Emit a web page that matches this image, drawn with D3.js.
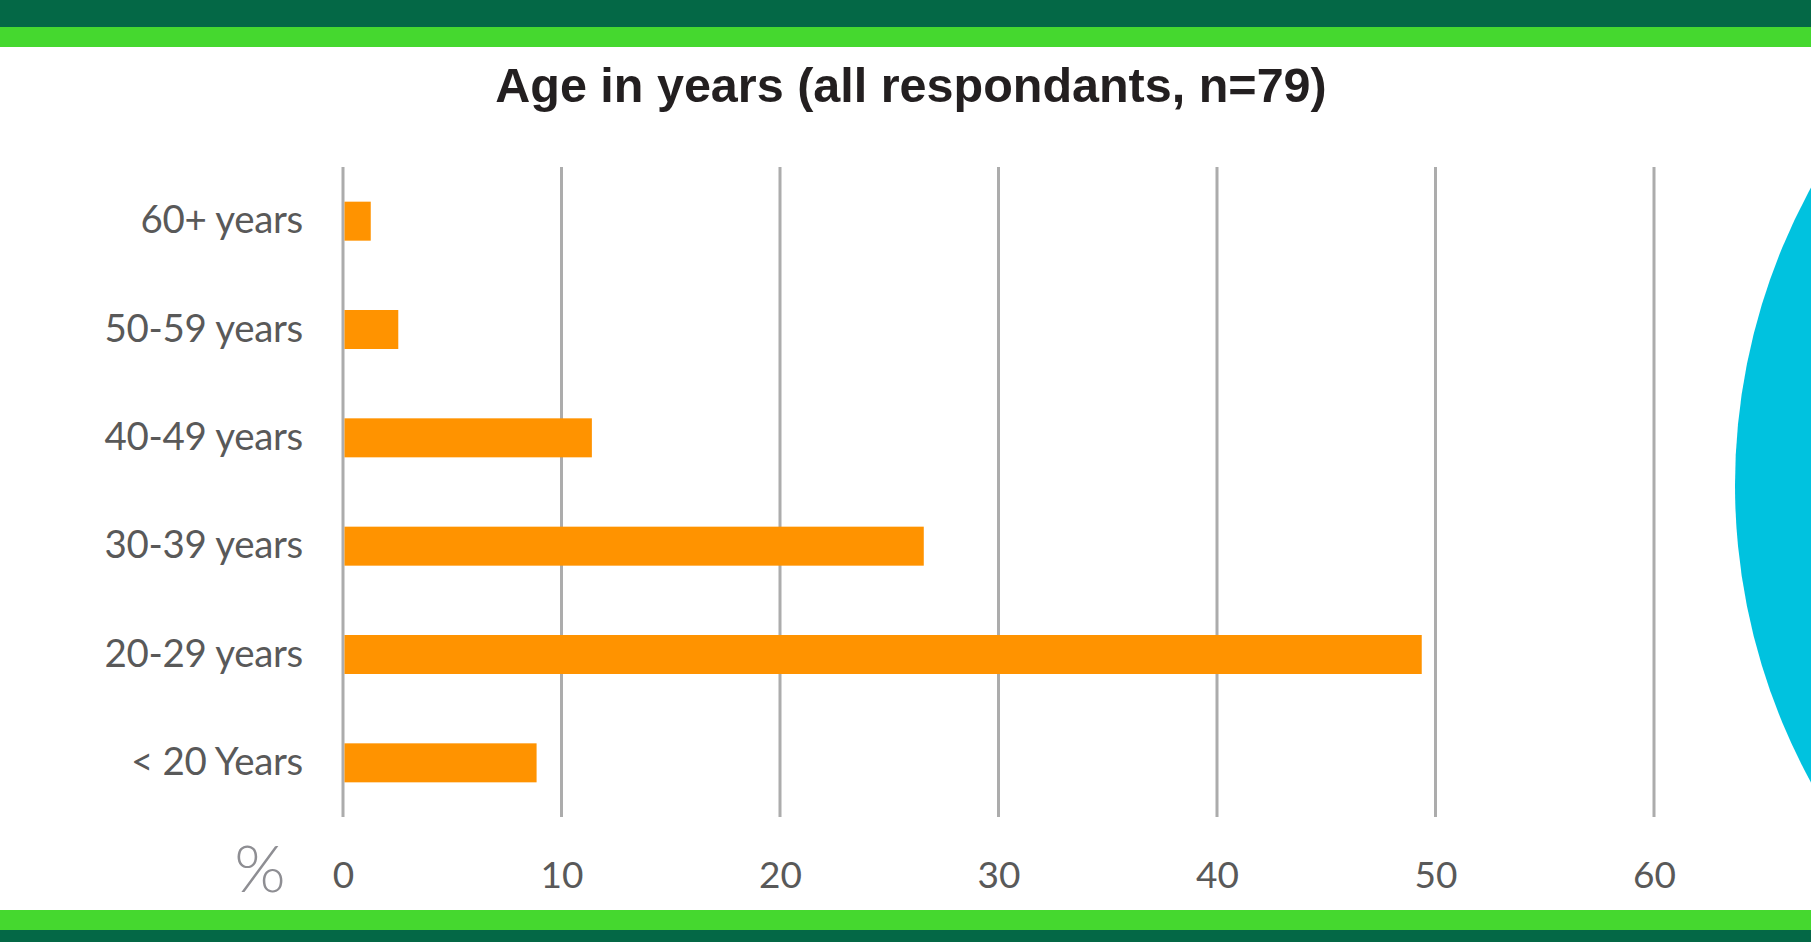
<!DOCTYPE html>
<html>
<head>
<meta charset="utf-8">
<script src="https://cdn.jsdelivr.net/npm/d3@7"></script>
<style>
  body { margin: 0; background: #fff; overflow: hidden; }
  svg { display: block; }
</style>
</head>
<body>
<div id="chart"></div>
<script>
// age groups, top to bottom as drawn
var ageGroups = ["60+ years", "50-59 years", "40-49 years", "30-39 years", "20-29 years", "< 20 Years"];
// percent of respondants (n=79)
var percents = [1.27, 2.53, 11.39, 26.58, 49.37, 8.86];
var xTicks = [0, 10, 20, 30, 40, 50, 60];

var W = 1811, H = 942;

var svg = d3.select("#chart").append("svg")
    .attr("width", W)
    .attr("height", H);

// decoration: cyan disc at the right
svg.append("circle")
    .attr("cx", 2355)
    .attr("cy", 485)
    .attr("r", 620)
    .attr("fill", "#00c2df");

// green bands top & bottom
svg.append("rect").attr("x", 0).attr("y", 0).attr("width", W).attr("height", 27).attr("fill", "#046846");
svg.append("rect").attr("x", 0).attr("y", 27).attr("width", W).attr("height", 20).attr("fill", "#45d82f");
svg.append("rect").attr("x", 0).attr("y", 910).attr("width", W).attr("height", 20).attr("fill", "#45d82f");
svg.append("rect").attr("x", 0).attr("y", 930).attr("width", W).attr("height", 12).attr("fill", "#046846");

// title
svg.append("text")
    .attr("x", 911)
    .attr("y", 102)
    .attr("text-anchor", "middle")
    .attr("font-family", "Liberation Sans, Arial, sans-serif")
    .attr("font-weight", "bold")
    .attr("font-size", 48.5)
    .attr("fill", "#231f20")
    .text("Age in years (all respondants, n=79)");

var x = d3.scaleLinear()
    .domain([0, 60])
    .range([343, 1654]);

var y = d3.scaleBand()
    .domain(ageGroups)
    .range([167, 817])
    .paddingInner(0.64)
    .paddingOuter(0.32);

// gridlines
svg.append("g")
    .selectAll("line")
    .data(xTicks)
    .enter()
    .append("line")
    .attr("x1", function(d) { return x(d); })
    .attr("x2", function(d) { return x(d); })
    .attr("y1", 167)
    .attr("y2", 817)
    .attr("stroke", "#acacac")
    .attr("stroke-width", 3);

// bars
svg.append("g")
    .selectAll("rect")
    .data(percents)
    .enter()
    .append("rect")
    .attr("x", x(0) + 1.5)
    .attr("y", function(d, i) { return y(ageGroups[i]); })
    .attr("width", function(d) { return x(d) - x(0) - 1.5; })
    .attr("height", y.bandwidth())
    .attr("fill", "#ff9300");

// category labels
svg.append("g")
    .selectAll("text")
    .data(ageGroups)
    .enter()
    .append("text")
    .attr("x", 303)
    .attr("y", function(d) { return y(d) + y.bandwidth() / 2 + 12; })
    .attr("text-anchor", "end")
    .attr("font-family", "Lato, sans-serif")
    .attr("font-size", 38.5)
    .attr("letter-spacing", -0.3)
    .attr("fill", "#595959")
    .text(function(d) { return d; });

// x axis labels
var xAxis = d3.axisBottom(x)
    .tickValues(xTicks)
    .tickSize(0)
    .tickPadding(0);

var gx = svg.append("g")
    .attr("transform", "translate(0,888)")
    .call(xAxis);
gx.select(".domain").remove();
gx.selectAll("text")
    .attr("dy", 0)
    .attr("font-family", "Lato, sans-serif")
    .attr("font-size", 37)
    .attr("fill", "#595959");

// percent sign
svg.append("text")
    .attr("x", 260)
    .attr("y", 892)
    .attr("text-anchor", "middle")
    .attr("font-family", "Lato, sans-serif")
    .attr("font-weight", 300)
    .attr("font-size", 66)
    .attr("fill", "#8e8e93")
    .text("%");
</script>
</body>
</html>
